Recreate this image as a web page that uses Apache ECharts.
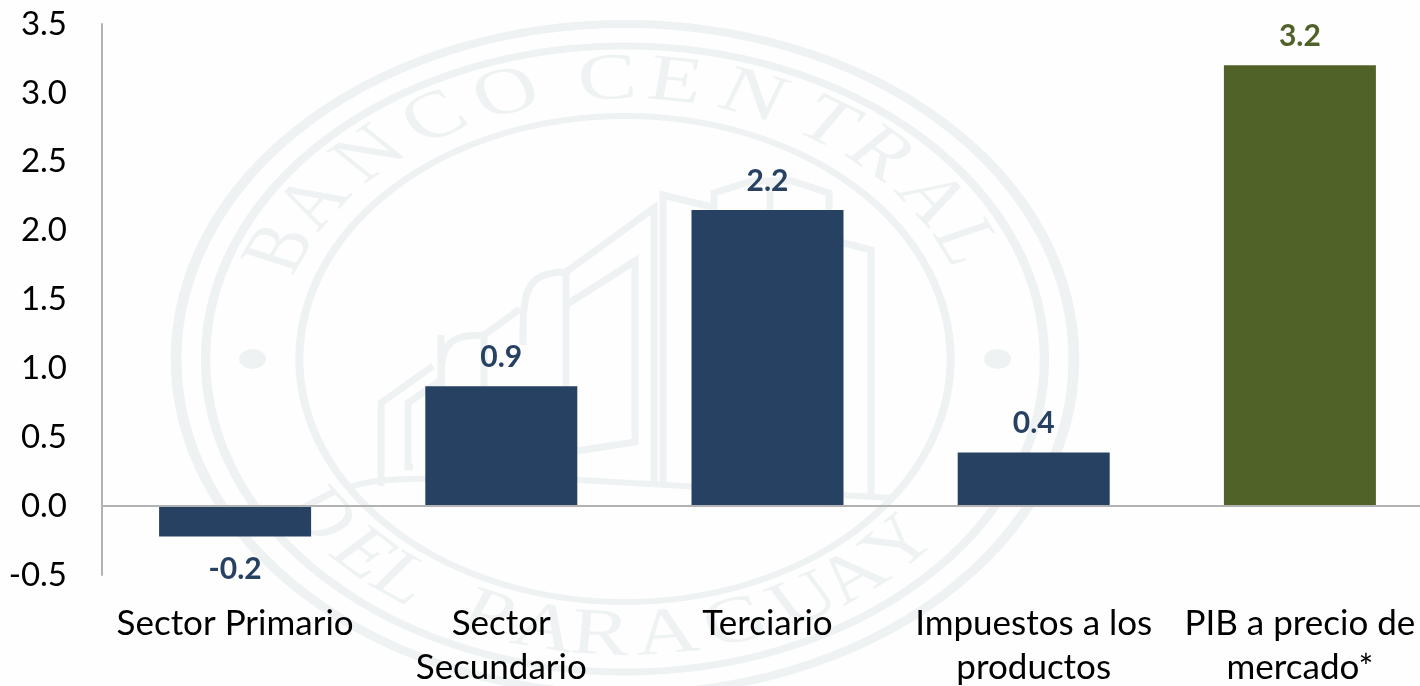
<!DOCTYPE html>
<html><head><meta charset="utf-8">
<style>html,body{margin:0;padding:0;background:#fefefe}#c{width:1420px;height:686px}</style>
<script src="https://cdn.jsdelivr.net/npm/echarts@6/dist/echarts.min.js"></script>
</head><body><div id="c"></div>
<script>
const categories = ['Sector Primario', 'Sector\nSecundario', 'Terciario', 'Impuestos a los\nproductos', 'PIB a precio de\nmercado*'];
const values = [-0.22, 0.87, 2.15, 0.39, 3.2];
const totalCategory = 'PIB a precio de\nmercado*';
const yTicks = { min: -0.5, max: 3.5, interval: 0.5 };

const NAVY = '#264162', GREEN = '#506228', AXIS = '#b2b2b2', WM = '#eef2f3', FONT = 'Lato, "Open Sans", sans-serif';

// Decorative watermark seal: [letter, angle in degrees from the top / bottom]
const sealTop = [['B',-66.8],['A',-56],['N',-43],['C',-30.5],['O',-18.5],['C',-2.7],['E',7.7],['N',20],['T',32.7],['R',43],['A',55],['L',65.4]];
const sealBottom = [['D',-55.6],['E',-45],['L',-36.9],['P',-21.9],['A',-12.5],['R',-3.8],['A',6.4],['G',17.5],['U',29],['A',38],['Y',48]];
const rad = d => d * Math.PI / 180;
const letter = (t, a, top) => ({
  type: 'text', z: -5, silent: true,
  x: 278 * Math.sin(rad(a)),
  y: (top ? -1 : 1) * 278 * Math.cos(rad(a)),
  rotation: top ? -rad(a) : rad(a),
  style: { text: t, fill: WM, font: '400 66px "Liberation Serif", serif', align: 'center', verticalAlign: 'middle', textAlign: 'center', textVerticalAlign: 'middle' }
});
const ring = (r, w) => ({ type: 'circle', z: -5, silent: true, shape: { cx: 0, cy: 0, r }, style: { fill: 'none', stroke: WM, lineWidth: w } });
const dot = x => ({ type: 'circle', z: -5, silent: true, shape: { cx: x, cy: 0, r: 10 }, style: { fill: WM } });
const line = pts => ({ type: 'polyline', z: -5, silent: true, shape: { points: pts }, style: { fill: 'none', stroke: WM, lineWidth: 7, lineJoin: 'miter' } });
const curve = (x1, y1, cx1, cy1, cx2, cy2, x2, y2, w) => ({ type: 'bezierCurve', z: -5, silent: true, shape: { x1, y1, x2, y2, cpx1: cx1, cpy1: cy1, cpx2: cx2, cpy2: cy2 }, style: { fill: 'none', stroke: WM, lineWidth: w || 7 } });

const seal = {
  type: 'group', x: 625, y: 359, scaleX: 1.34, scaleY: 1, z: -5, silent: true,
  children: [ring(335, 8), ring(313, 7), ring(243, 6), dot(-278), dot(278)]
    .concat(sealTop.map(([t, a]) => letter(t, a, true)))
    .concat(sealBottom.map(([t, a]) => letter(t, a, false)))
};
const building = [
  line([[381,486],[381,403],[433,366]]),
  curve(441,392,441,350,441,335,484,335),
  line([[484,335],[520,309]]),
  curve(523,345,523,295,523,272,566,272),
  line([[566,272],[654,208],[654,484]]),
  line([[566,272],[566,482]]),
  line([[441,335],[441,390]]),
  line([[484,335],[484,390]]),
  line([[413,467],[408,467],[408,403],[441,380]]),
  line([[566,305],[635,261],[635,442],[577,451]]),
  line([[663,484],[663,195],[716,208]]),
  line([[640,218],[654,208]]),
  line([[714,213],[714,193],[752,181],[792,181],[829,193],[829,212]]),
  line([[770,181],[770,212]]),
  line([[840,242],[871,250],[871,496]]),
  curve(351,487,358,484,370,480,410,479,6),
  curve(410,479,470,477,540,478,580,480,6),
  curve(580,480,640,484,760,490,892,498,6)
];

const chart = echarts.init(document.getElementById('c'), null, { renderer: 'canvas' });
chart.setOption({
  animation: false,
  backgroundColor: '#fefefe',
  textStyle: { fontFamily: FONT },
  grid: { left: 102, right: -13, top: 24, bottom: 111, containLabel: false, outerBoundsMode: 'none' },
  graphic: { elements: [seal].concat(building) },
  xAxis: {
    type: 'category', data: categories, z: 3,
    axisLine: { show: true, onZero: true, lineStyle: { color: AXIS, width: 2 } },
    axisTick: { show: false },
    axisLabel: { color: '#000', fontFamily: FONT, fontSize: 35, lineHeight: 44, margin: 27, interval: 0, hideOverlap: false },
    splitLine: { show: false }
  },
  yAxis: {
    type: 'value', min: yTicks.min, max: yTicks.max, interval: yTicks.interval,
    axisLine: { show: true, lineStyle: { color: AXIS, width: 2 } },
    axisTick: { show: false }, splitLine: { show: false },
    axisLabel: { color: '#000', fontFamily: FONT, fontSize: 33, margin: 35, formatter: v => v.toFixed(1), showMinLabel: true, showMaxLabel: true }
  },
  series: [{
    type: 'bar', barWidth: 152, z: 2,
    data: categories.map((c, i) => {
      const col = c === totalCategory ? GREEN : NAVY;
      return { value: values[i], itemStyle: { color: col }, label: { color: col, distance: values[i] < 0 ? 18 : 14 } };
    }),
    label: { show: true, position: 'outside', fontFamily: FONT, fontSize: 30, fontWeight: 700,
      formatter: p => (Math.round(p.value * 10) / 10).toFixed(1) }
  }]
});
</script></body></html>
